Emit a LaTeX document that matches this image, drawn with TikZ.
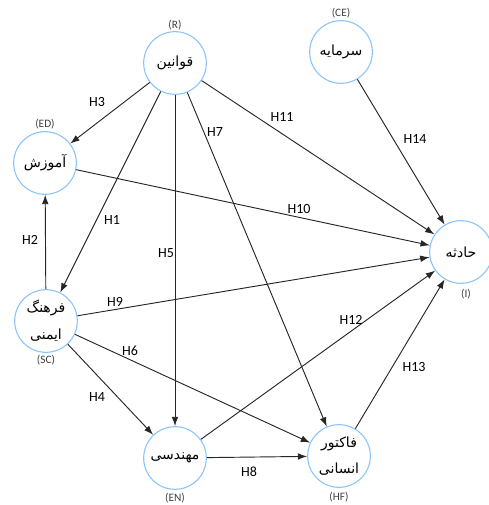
\documentclass[tikz,border=0pt]{standalone}
\usepackage{fontspec}
\setmainfont{Carlito}
\newfontfamily\arabicfont[Script=Arabic]{DejaVu Sans}
\TeXXeTstate=1
\usetikzlibrary{arrows.meta}
\tikzset{>={Latex[length=7pt,width=5pt]}}
\definecolor{ringblue}{RGB}{135,195,250}
\tikzset{factor/.style = {circle, draw=ringblue, line width=0.8pt, minimum size=47pt, inner sep=0pt, align=center, font=\fontsize{10.5}{20}\selectfont}}
\tikzset{tag/.style = {font=\fontsize{8.5}{10}\selectfont, text=black!75, inner sep=1pt}}
\tikzset{hyp/.style = {font=\fontsize{10.5}{12}\selectfont, inner sep=1pt}}
\tikzset{link/.style = {->, line width=0.7pt, black!85}}
\newcommand{\pers}[1]{{\arabicfont\beginR #1\endR}}

\begin{document}
\begin{tikzpicture}[x=0.75pt, y=-0.75pt]
		\useasboundingbox (0,0) rectangle (488,505);
		
		% Factors
		\node[factor] (R) at (175,63) {\pers{قوانین}};
		\node[factor] (CE) at (341,52) {\pers{سرمایه}};
		\node[factor] (ED) at (45,163) {\pers{آموزش}};
		\node[factor] (SC) at (46,321) {\pers{فرهنگ}\\\pers{ایمنی}};
		\node[factor] (I) at (461,252) {\pers{حادثه}};
		\node[factor] (EN) at (175,458) {\pers{مهندسی}};
		\node[factor] (HF) at (339,456) {\pers{فاکتور}\\\pers{انسانی}};
		
		% Tags
		\node[tag] (Rtag) at (175,25) {(R)};
		\node[tag] (CEtag) at (341,13) {(CE)};
		\node[tag] (EDtag) at (45,124) {(ED)};
		\node[tag] (SCtag) at (46,360) {(SC)};
		\node[tag] (Itag) at (466,294) {(I)};
		\node[tag] (ENtag) at (175,498) {(EN)};
		\node[tag] (HFtag) at (339,497) {(HF)};
		
		% Hypotheses
		\draw[link] (R) -- (ED);
		\draw[link] (R) -- (SC);
		\draw[link] (R) -- (EN);
		\draw[link] (R) -- (HF);
		\draw[link] (R) -- (I);
		\draw[link] (SC) -- (ED);
		\draw[link] (SC) -- (EN);
		\draw[link] (SC) -- (HF);
		\draw[link] (SC) -- (I);
		\draw[link] (ED) -- (I);
		\draw[link] (EN) -- (HF);
		\draw[link] (EN) -- (I);
		\draw[link] (HF) -- (I);
		\draw[link] (CE) -- (I);
		
		% Labels
		\node[hyp] (h1) at (112,220) {H1};
		\node[hyp] (h2) at (30,240) {H2};
		\node[hyp] (h3) at (97,102) {H3};
		\node[hyp] (h4) at (97,397) {H4};
		\node[hyp] (h5) at (166,253) {H5};
		\node[hyp] (h6) at (130,351) {H6};
		\node[hyp] (h7) at (215,132) {H7};
		\node[hyp] (h8) at (249,472) {H8};
		\node[hyp] (h9) at (115,302) {H9};
		\node[hyp] (h10) at (299,209) {H10};
		\node[hyp] (h11) at (282,117) {H11};
		\node[hyp] (h12) at (351,320) {H12};
		\node[hyp] (h13) at (414,367) {H13};
		\node[hyp] (h14) at (415,139) {H14};
	\end{tikzpicture}
\end{document}
